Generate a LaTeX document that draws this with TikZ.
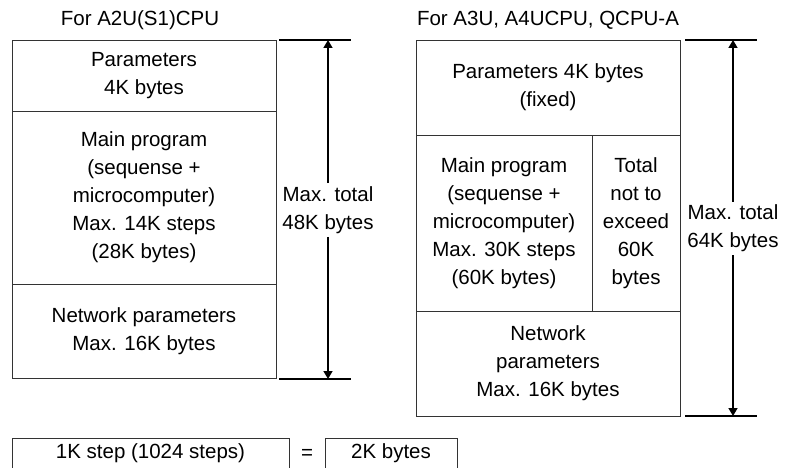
\documentclass[tikz,border=0pt]{standalone}
\usepackage{fontspec}
\setmainfont{Liberation Sans}
\usetikzlibrary{positioning,arrows.meta}

\begin{document}
\begin{tikzpicture}[
  x=1pt, y=-1pt,
  every node/.style={font=\fontsize{20.5}{28}\selectfont},
  cell/.style={draw=black!80, line width=0.8pt, align=center, inner sep=0pt, outer sep=0pt},
  dimline/.style={line width=1.6pt},
  dimarrow/.style={line width=1.6pt, -{Triangle[length=8pt, width=9pt]}},
  dimlab/.style={align=center, inner sep=3pt}
]
\useasboundingbox (0,0) rectangle (787,468);
\clip (0,0) rectangle (787,468);

% A2U(S1)CPU memory map
\node (ltitle) at (140,20) {For A2U(S1)CPU};
\node[cell, minimum width=264, minimum height=71] (lpar) at (144,75.5) {Parameters\\4K bytes};
\node[cell, minimum width=264, minimum height=173, below=0pt of lpar] (lmain)
  {Main program\\(sequense +\\microcomputer)\\Max. 14K steps\\(28K bytes)};
\node[cell, minimum width=264, minimum height=94, below=0pt of lmain] (lnet)
  {Network parameters\\Max. 16K bytes};

\coordinate (ltopa) at (279,40);  \coordinate (ltopb) at (351,40);  \coordinate (ltopm) at (328,40);
\coordinate (lbota) at (279,379); \coordinate (lbotb) at (351,379); \coordinate (lbotm) at (328,379);
\draw[dimline] (ltopa) -- (ltopb);
\draw[dimline] (lbota) -- (lbotb);
\node[dimlab] (ldim) at (328,210) {Max. total\\48K bytes};
\draw[dimarrow] (ldim) -- (ltopm);
\draw[dimarrow] (ldim) -- (lbotm);

% A3U, A4UCPU, QCPU-A memory map
\node (rtitle) at (548,20) {For A3U, A4UCPU, QCPU-A};
\node[cell, minimum width=264, minimum height=95] (rpar) at (548,87.5) {Parameters 4K bytes\\(fixed)};
\node[cell, minimum width=176, minimum height=176, anchor=north west] (rmain) at (rpar.south west)
  {Main program\\(sequense +\\microcomputer)\\Max. 30K steps\\(60K bytes)};
\node[cell, minimum width=88, minimum height=176, anchor=north west] (rtotal) at (rmain.north east)
  {Total\\not to\\exceed\\60K\\bytes};
\node[cell, minimum width=264, minimum height=105, anchor=north west] (rnet) at (rmain.south west)
  {Network\\parameters\\Max. 16K bytes};

\coordinate (rtopa) at (685,40);  \coordinate (rtopb) at (757,40);  \coordinate (rtopm) at (733,40);
\coordinate (rbota) at (685,416); \coordinate (rbotb) at (757,416); \coordinate (rbotm) at (733,416);
\draw[dimline] (rtopa) -- (rtopb);
\draw[dimline] (rbota) -- (rbotb);
\node[dimlab] (rdim) at (733,228.5) {Max. total\\64K bytes};
\draw[dimarrow] (rdim) -- (rtopm);
\draw[dimarrow] (rdim) -- (rbotm);

% step / byte relation
\node[cell, minimum width=277, minimum height=36, text depth=9pt, anchor=north west] (kstep) at (12,438) {1K step (1024 steps)};
\node (eq) at (307,454) {=};
\node[cell, minimum width=132, minimum height=36, text depth=9pt, anchor=north west] (kbyte) at (325,438) {2K bytes};
\end{tikzpicture}
\end{document}
